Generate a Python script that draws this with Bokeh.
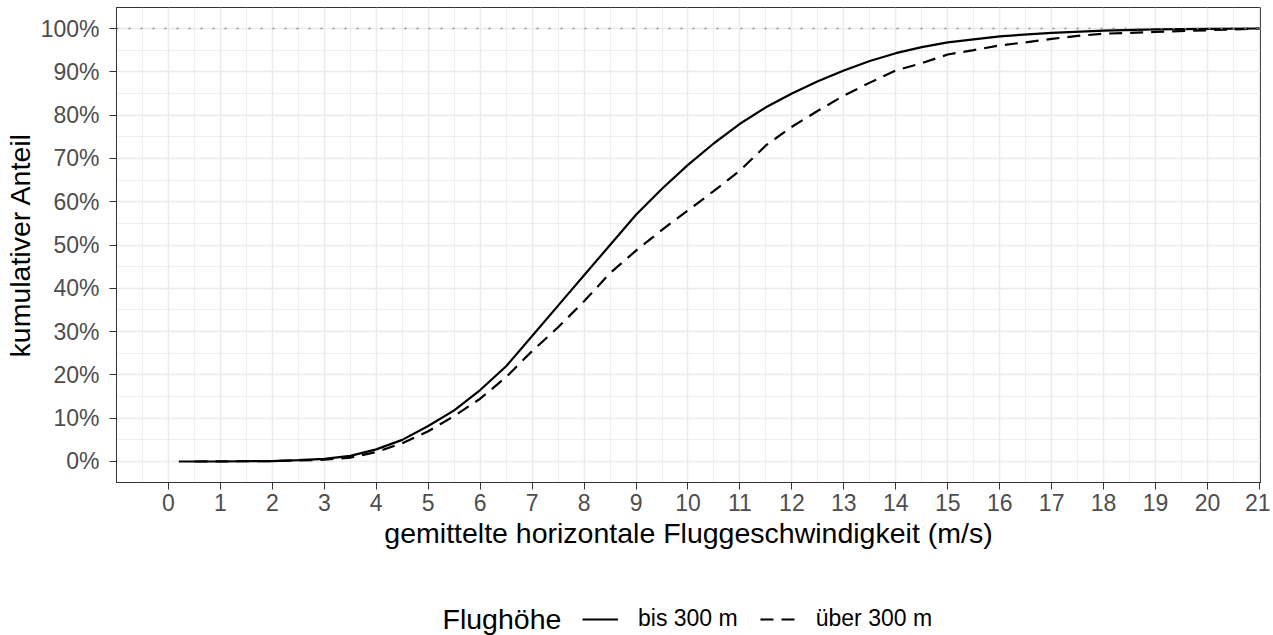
from bokeh.plotting import figure
from bokeh.layouts import column
from bokeh.models import (Range1d, FixedTicker, NumeralTickFormatter, Span, Legend,
                          LegendItem, Label, ColumnDataSource)
from bokeh.embed import file_html
from bokeh.resources import INLINE

# ---- data ----
speed_low = [0.2, 1, 2, 2.5, 3, 3.5, 4, 4.5, 5, 5.5, 6, 6.5, 7, 7.5, 8, 8.5, 9, 9.5,
             10, 10.5, 11, 11.5, 12, 12.5, 13, 13.5, 14, 14.5, 15, 16, 17, 18, 19, 20, 21]
share_low = [0.0, 0.0, 0.001, 0.003, 0.006, 0.013, 0.028, 0.05, 0.082, 0.118, 0.165, 0.22,
             0.29, 0.36, 0.43, 0.50, 0.57, 0.63, 0.685, 0.735, 0.78, 0.818, 0.85, 0.878,
             0.903, 0.925, 0.943, 0.957, 0.968, 0.982, 0.99, 0.995, 0.998, 0.999, 1.0]

speed_high = [0.5, 2, 3, 3.5, 4, 4.5, 5, 5.5, 6, 6.5, 7, 7.5, 8, 8.5, 9, 9.5, 10, 10.5,
              11, 11.5, 12, 12.5, 13, 13.5, 14, 14.5, 15, 15.5, 16, 16.5, 17, 17.5, 18,
              19, 20, 21]
share_high = [0.0, 0.001, 0.004, 0.009, 0.022, 0.042, 0.07, 0.105, 0.145, 0.195, 0.255,
              0.31, 0.37, 0.435, 0.487, 0.535, 0.58, 0.625, 0.672, 0.73, 0.773, 0.81,
              0.845, 0.875, 0.903, 0.92, 0.94, 0.95, 0.961, 0.968, 0.976, 0.983, 0.988,
              0.992, 0.996, 1.0]

x_ticks = list(range(0, 22))
x_minor = [i + 0.5 for i in range(-1, 21)]
y_ticks = [i / 10 for i in range(0, 11)]
y_minor = [i / 10 + 0.05 for i in range(0, 10)]

series_labels = ["bis 300 m", "über 300 m"]
legend_title = "Flughöhe"
x_title = "gemittelte horizontale Fluggeschwindigkeit (m/s)"
y_title = "kumulativer Anteil"

FONT = "Liberation Sans"
SOLID = dict(line_color="black", line_width=2.2)
DASHED = dict(line_color="black", line_width=2.2, line_dash="13 8")

# ---------------- main chart ----------------
p = figure(width=1270, height=568, output_backend="svg", toolbar_location=None,
           x_range=Range1d(-1.0, 21.02), y_range=Range1d(-0.0485, 1.0485),
           min_border_left=116, min_border_right=10, min_border_top=7,
           min_border_bottom=86)
p.background_fill_color = "white"
p.border_fill_color = "white"
p.outline_line_color = "#333333"
p.outline_line_width = 1

for g in (p.xgrid, p.ygrid):
    g.grid_line_color = "#ebebeb"
    g.grid_line_width = 1.5
    g.minor_grid_line_color = "#ebebeb"
    g.minor_grid_line_width = 0.8

p.xaxis.ticker = FixedTicker(ticks=x_ticks, minor_ticks=x_minor)
p.yaxis.ticker = FixedTicker(ticks=y_ticks, minor_ticks=y_minor)
p.yaxis.formatter = NumeralTickFormatter(format="0%")

for ax in (p.xaxis, p.yaxis):
    ax.axis_line_color = "#333333"
    ax.major_tick_line_color = "#333333"
    ax.major_tick_out = 7
    ax.major_tick_in = 0
    ax.minor_tick_line_color = None
    ax.major_label_text_font = FONT
    ax.major_label_text_font_size = "23px"
    ax.major_label_text_color = "#4d4d4d"
    ax.axis_label_text_font = FONT
    ax.axis_label_text_font_size = "28.5px"
    ax.axis_label_text_font_style = "normal"
    ax.axis_label_text_color = "black"

p.xaxis.axis_label = x_title
p.yaxis.axis_label = y_title
p.xaxis.major_label_standoff = 4
p.xaxis.axis_label_standoff = 3
p.yaxis.major_label_standoff = 10
p.yaxis.axis_label_standoff = 2

# reference line at 100 %
p.add_layout(Span(location=1.0, dimension="width", line_color="#8c8c8c",
                  line_width=1.6, line_dash="2 10"))

src_low = ColumnDataSource(dict(x=speed_low, y=share_low))
src_high = ColumnDataSource(dict(x=speed_high, y=share_high))
p.line("x", "y", source=src_low, **SOLID)
p.line("x", "y", source=src_high, **DASHED)

# ---------------- legend strip ----------------
# its ranges lie outside the data, so the key renderers show only in the legend
lg = figure(width=1270, height=67, output_backend="svg", toolbar_location=None,
            x_range=Range1d(-100, -99), y_range=Range1d(-100, -99),
            x_axis_type=None, y_axis_type=None,
            min_border_left=0, min_border_right=0, min_border_top=0,
            min_border_bottom=0)
lg.outline_line_color = None
lg.xgrid.visible = False
lg.ygrid.visible = False
lg.background_fill_color = "white"
lg.border_fill_color = "white"

k1 = lg.line("x", "y", source=src_low, **SOLID)
k2 = lg.line("x", "y", source=src_high, **DASHED)

legend = Legend(items=[LegendItem(label=series_labels[0], renderers=[k1]),
                       LegendItem(label=series_labels[1], renderers=[k2])],
                orientation="horizontal", location=(466, 3),
                border_line_color=None, background_fill_alpha=0,
                padding=0, margin=0, spacing=22, label_standoff=20,
                glyph_width=36, glyph_height=20,
                label_text_font=FONT, label_text_font_size="23px",
                label_text_color="black")
lg.add_layout(legend)

lg.add_layout(Label(x=326, y=17, x_units="screen", y_units="screen",
                    text=legend_title, text_font=FONT, text_font_size="28.5px",
                    text_color="black", text_baseline="middle",
                    text_align="left"))

layout = column(p, lg, spacing=0)
open("out.html", "w").write(file_html(layout, INLINE))
